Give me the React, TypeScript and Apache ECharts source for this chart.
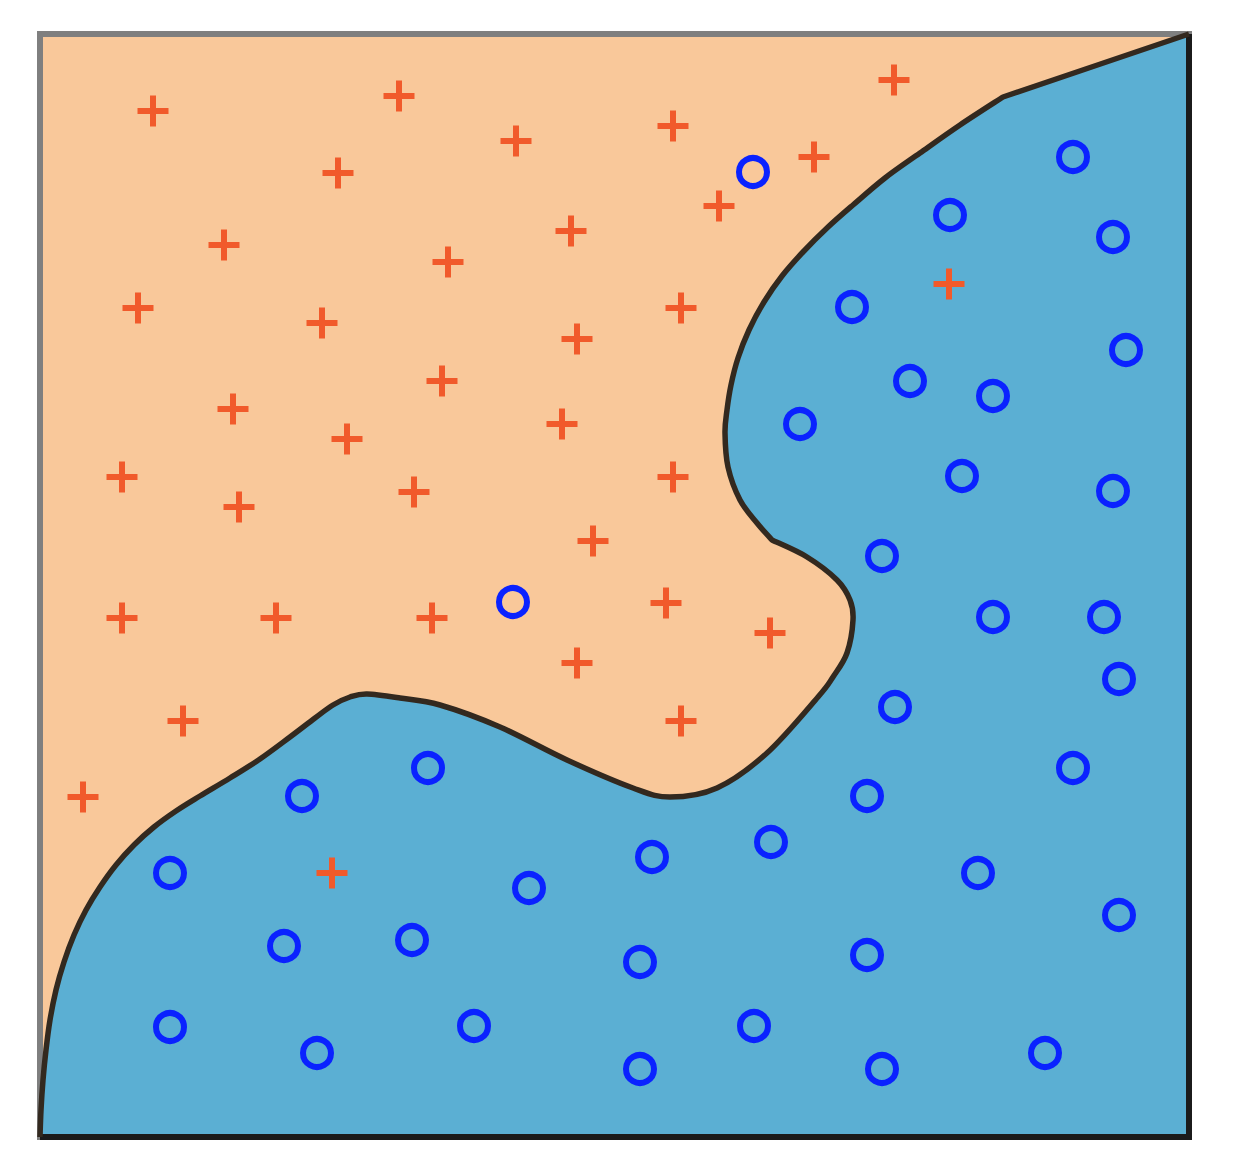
import React, { useEffect, useRef } from "react";
import * as echarts from "echarts";

// Plot extent (data units)
const X_MAX = 1149;
const Y_MAX = 1103;

// Class "+" samples [x, y]
const plusPoints: number[][] = [
  [113, 1026], [359, 1041], [854, 1057], [476, 996], [633, 1011], [298, 964],
  [774, 980], [679, 931], [531, 906], [184, 892], [408, 875], [98, 829],
  [282, 814], [641, 829], [537, 798], [909, 853], [402, 756], [193, 728],
  [522, 713], [307, 698], [82, 660], [633, 660], [199, 630], [374, 645],
  [553, 596], [82, 519], [236, 519], [392, 519], [626, 534], [730, 504],
  [537, 474], [143, 416], [641, 416], [43, 340], [292, 264],
];

// Class "o" samples [x, y]
const circlePoints: number[][] = [
  [713, 965], [1033, 980], [910, 922], [1073, 900], [812, 830], [1086, 787],
  [870, 756], [953, 741], [760, 713], [922, 661], [1073, 646], [842, 581],
  [953, 520], [1064, 520], [1079, 458], [855, 430], [473, 535], [388, 369],
  [262, 341], [1033, 369], [827, 341], [731, 295], [612, 280], [130, 264],
  [489, 249], [938, 264], [1079, 222], [244, 191], [372, 197], [600, 175],
  [827, 182], [130, 110], [277, 84], [434, 111], [714, 111], [600, 68],
  [842, 68], [1005, 84],
];

// Decision boundary [x, y]
const boundary: number[][] = [
  [0, 0], [1, 27], [3, 57], [6, 87], [10, 117], [16, 147], [24, 175],
  [34, 202], [46, 227], [60, 250], [76, 272], [94, 292], [114, 310],
  [136, 326], [160, 341], [190, 359], [220, 378], [250, 400], [275, 419],
  [293, 432], [310, 440], [327, 443], [360, 439], [400, 432], [460, 410],
  [527, 377], [593, 349], [630, 340], [677, 349], [727, 384], [778, 440],
  [793, 460], [807, 484], [813, 517], [810, 537], [797, 557], [767, 580],
  [732, 597], [717, 614], [700, 637], [688, 670], [685, 704], [687, 727],
  [691, 752], [698, 779], [709, 807], [724, 835], [742, 861], [763, 885],
  [787, 909], [813, 932], [845, 959], [880, 984], [920, 1012], [963, 1040],
  [1149, 1103],
];

// Points of the boundary where it has a sharp corner
const boundaryCorners: number[][] = [[732, 597], [963, 1040]];

const ORANGE_BG = "#F9C89A";
const BLUE_BG = "#5BAFD3";
const PLUS_COLOR = "#F15A2B";
const CIRCLE_COLOR = "#0A22FF";

const PLUS_PATH =
  "path://M-3,-15.5H3V-3H15.5V3H3V15.5H-3V3H-15.5V-3H-3Z";

// Smooth SVG path (Catmull-Rom -> cubic Bezier) through pixel points
function smoothPath(pts: number[][], corner: boolean[]): string {
  const f = (v: number) => v.toFixed(2);
  const n = pts.length;
  let d = `M${f(pts[0][0])},${f(pts[0][1])}`;
  for (let i = 0; i < n - 1; i++) {
    const p1 = pts[i];
    const p2 = pts[i + 1];
    const p0 = i === 0 || corner[i] ? p1 : pts[i - 1];
    const p3 = i + 1 === n - 1 || corner[i + 1] ? p2 : pts[i + 2];
    const c1x = p1[0] + (p2[0] - p0[0]) / 6;
    const c1y = p1[1] + (p2[1] - p0[1]) / 6;
    const c2x = p2[0] - (p3[0] - p1[0]) / 6;
    const c2y = p2[1] - (p3[1] - p1[1]) / 6;
    d += ` C${f(c1x)},${f(c1y)} ${f(c2x)},${f(c2y)} ${f(p2[0])},${f(p2[1])}`;
  }
  return d;
}

export default function App() {
  const ref = useRef<HTMLDivElement>(null);

  useEffect(() => {
    document.body.style.margin = "0";
    if (!ref.current) return;
    const chart = echarts.init(ref.current, undefined, { renderer: "svg" });

    const cornerFlags = boundary.map((p) =>
      boundaryCorners.some((q) => q[0] === p[0] && q[1] === p[1])
    );

    const renderRegions = (_params: any, api: any) => {
      const c = (p: number[]) => api.coord(p);
      const tl = c([0, Y_MAX]);
      const tr = c([X_MAX, Y_MAX]);
      const br = c([X_MAX, 0]);
      const bl = c([0, 0]);
      const curve = boundary.map(c);
      const curveD = smoothPath(curve, cornerFlags);
      const fillD = `${curveD} L${br[0]},${br[1]} L${bl[0]},${bl[1]} Z`;
      return {
        type: "group",
        children: [
          {
            type: "polygon",
            shape: { points: [tl, tr, br, bl] },
            style: { fill: ORANGE_BG, stroke: "#7F7F7F", lineWidth: 6 },
          },
          {
            type: "path",
            shape: { pathData: fillD },
            style: { fill: BLUE_BG, stroke: "none" },
          },
          {
            type: "polyline",
            shape: { points: [tr, br, bl] },
            style: { stroke: "#1B1B1B", lineWidth: 6, fill: "none" },
          },
          {
            type: "path",
            shape: { pathData: curveD },
            style: {
              stroke: "#33291F",
              lineWidth: 5.5,
              fill: "none",
              lineJoin: "round",
            },
          },
        ],
      };
    };

    chart.setOption({
      animation: false,
      grid: { left: 40, top: 34, right: 45, bottom: 35, containLabel: false },
      xAxis: { type: "value", min: 0, max: X_MAX, show: false },
      yAxis: { type: "value", min: 0, max: Y_MAX, show: false },
      series: [
        {
          type: "custom",
          data: [[0, 0]],
          renderItem: renderRegions,
          clip: false,
          silent: true,
          z: 1,
        },
        {
          type: "scatter",
          data: plusPoints,
          symbol: PLUS_PATH,
          symbolSize: 31,
          itemStyle: { color: PLUS_COLOR, opacity: 1 },
          silent: true,
          z: 3,
        },
        {
          type: "scatter",
          data: circlePoints,
          symbol: "circle",
          symbolSize: 28,
          itemStyle: {
            color: "rgba(0,0,0,0)",
            borderColor: CIRCLE_COLOR,
            borderWidth: 6,
            opacity: 1,
          },
          silent: true,
          z: 3,
        },
      ],
    });

    return () => chart.dispose();
  }, []);

  return <div ref={ref} style={{ width: 1234, height: 1172 }} />;
}
